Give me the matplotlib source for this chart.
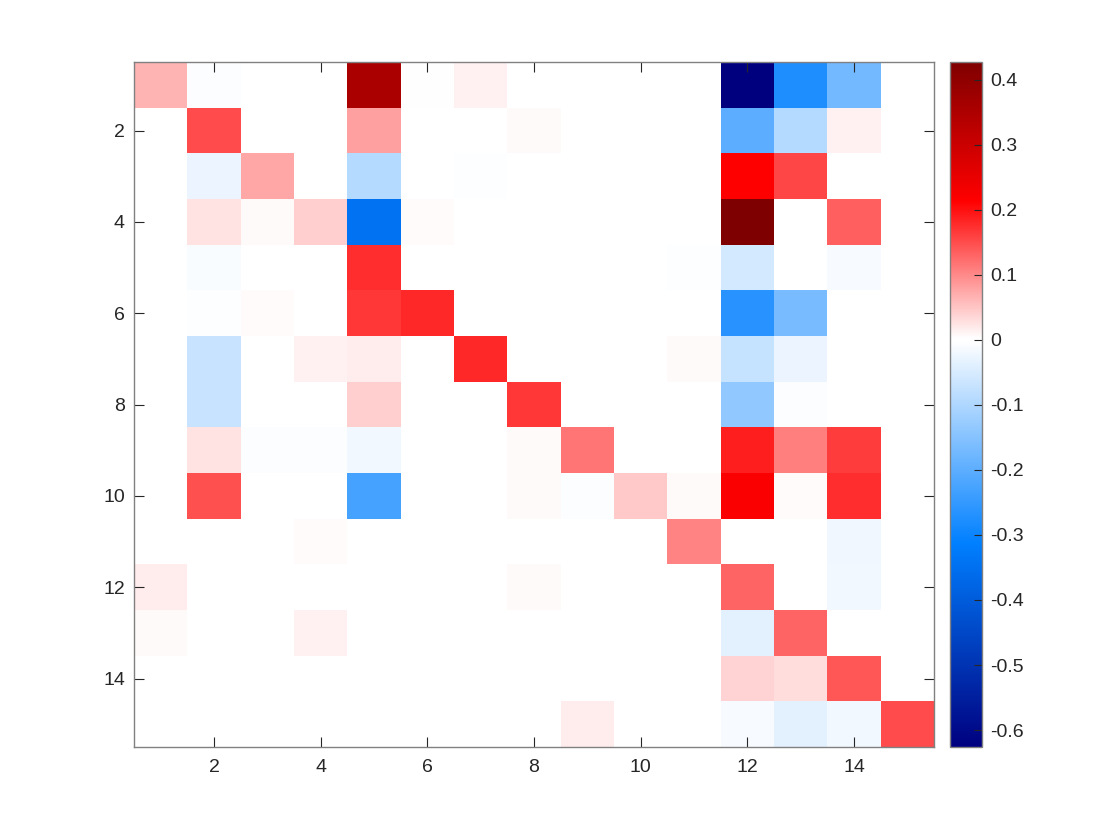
import numpy as np
import matplotlib
matplotlib.use("Agg")
import matplotlib.pyplot as plt
from matplotlib.colors import LinearSegmentedColormap, Normalize

plt.rcParams['font.family'] = ['Liberation Sans', 'DejaVu Sans']

# Matrix values, row by row (rows 1..15, columns 1..15)
row01 = [0.063, -0.005, 0, 0, 0.355, -0.003, 0.013, 0, 0, 0, 0, -0.626, -0.276, -0.172, 0]
row02 = [0, 0.151, 0, 0, 0.080, 0, 0, 0.006, 0, 0, 0, -0.200, -0.092, 0.013, 0]
row03 = [0, -0.025, 0.075, 0, -0.092, 0, -0.004, 0, 0, 0, 0, 0.213, 0.155, 0, 0]
row04 = [0, 0.025, 0.006, 0.042, -0.344, 0.005, 0, 0, 0, 0, 0, 0.427, 0, 0.134, 0]
row05 = [0, -0.008, 0, 0, 0.176, 0, 0, 0, 0, 0, -0.004, -0.055, 0, -0.012, 0]
row06 = [0, -0.004, 0.005, 0, 0.167, 0.180, 0, 0, 0, 0, 0, -0.264, -0.166, 0, 0]
row07 = [0, -0.068, 0, 0.013, 0.017, 0, 0.180, 0, 0, 0, 0.006, -0.072, -0.025, 0, 0]
row08 = [0, -0.068, 0, 0, 0.042, 0, 0, 0.167, 0, 0, 0, -0.135, -0.005, 0, 0]
row09 = [0, 0.025, -0.006, -0.006, -0.018, 0, 0, 0.006, 0.117, 0, 0, 0.188, 0.109, 0.163, 0]
row10 = [0, 0.147, 0, 0, -0.228, 0, 0, 0.006, -0.005, 0.046, 0.006, 0.220, 0.005, 0.176, 0]
row11 = [0, 0, 0, 0.005, 0, 0, 0, 0, 0, 0, 0.105, 0, 0, -0.020, 0]
row12 = [0.017, 0, 0, 0, 0, 0, 0, 0.006, 0, 0, 0, 0.130, 0, -0.018, 0]
row13 = [0.006, 0, 0, 0.013, 0, 0, 0, 0, 0, 0, 0, -0.035, 0.130, 0, 0]
row14 = [0, 0, 0, 0, 0, 0, 0, 0, 0, 0, 0, 0.038, 0.030, 0.142, 0]
row15 = [0, 0, 0, 0, 0, 0, 0, 0, 0.017, 0, 0, -0.012, -0.035, -0.018, 0.151]

x_ticks = [2, 4, 6, 8, 10, 12, 14]
y_ticks = [2, 4, 6, 8, 10, 12, 14]
cbar_ticks = [0.4, 0.3, 0.2, 0.1, 0, -0.1, -0.2, -0.3, -0.4, -0.5, -0.6]

M = np.array([row01, row02, row03, row04, row05, row06, row07, row08,
              row09, row10, row11, row12, row13, row14, row15])
vmin, vmax = M.min(), M.max()

# Blue-white-red colormap with white at zero
w = -vmin / (vmax - vmin)
eps = 0.002
cmap = LinearSegmentedColormap.from_list(
    "bwr_asym",
    [(0.0, (0.0, 0.0, 0.5)),
     (w * 0.5, (0.0, 0.5, 1.0)),
     (w - eps, (1.0, 1.0, 1.0)),
     (w + eps, (1.0, 1.0, 1.0)),
     (w + (1 - w) * 0.5, (1.0, 0.0, 0.0)),
     (1.0, (0.5, 0.0, 0.0))], N=1024)

fig = plt.figure(figsize=(11.2, 8.4), dpi=100)
ax = fig.add_axes([134 / 1120, (840 - 747) / 840, 800 / 1120, 685 / 840])
n = M.shape[0]
im = ax.imshow(M, cmap=cmap, norm=Normalize(vmin=vmin, vmax=vmax),
               extent=(0.5, n + 0.5, n + 0.5, 0.5), aspect='auto',
               interpolation='nearest')
ax.set_xticks(x_ticks)
ax.set_yticks(y_ticks)
ax.set_xticklabels([str(t) for t in x_ticks])
ax.set_yticklabels([str(t) for t in y_ticks])
ax.tick_params(direction='in', length=7, width=0.8, color='#262626',
               labelcolor='#262626', labelsize=14, top=True, right=True)
ax.tick_params(axis='x', pad=9)
ax.tick_params(axis='y', pad=6.5)
for s in ax.spines.values():
    s.set_color('#808080')
    s.set_linewidth(1.0)

cax = fig.add_axes([950 / 1120, (840 - 747) / 840, 32 / 1120, 685 / 840])
cb = fig.colorbar(im, cax=cax, ticks=cbar_ticks)
cb.ax.set_yticklabels(['%g' % t for t in cbar_ticks])
cb.ax.tick_params(direction='in', length=6, width=0.8, color='#262626',
                  labelcolor='#262626', labelsize=14, pad=6)
cb.outline.set_edgecolor('#808080')
cb.outline.set_linewidth(1.0)

fig.savefig('out.png', dpi=100, facecolor='white')
